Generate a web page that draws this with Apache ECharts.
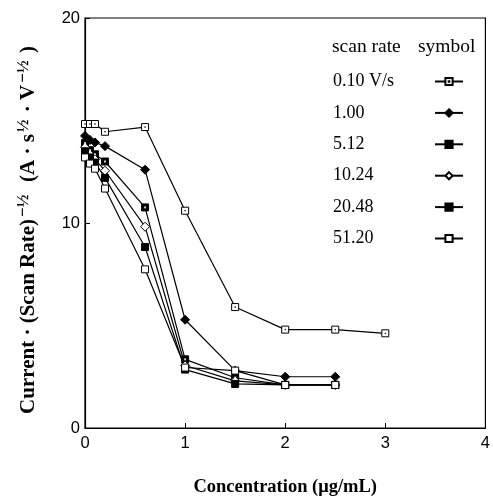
<!DOCTYPE html>
<html>
<head>
<meta charset="utf-8">
<script src="https://cdn.jsdelivr.net/npm/echarts@6/dist/echarts.min.js"></script>
<style>html,body{margin:0;padding:0;background:#fff}#c{width:493px;height:502px}</style>
</head>
<body>
<div id="c"></div>
<script>
// Concentration (µg/mL)
const concA = [0, 0.05, 0.1, 0.2, 0.6, 1.0, 1.5, 2.0, 2.5, 3.0];
const concB = [0, 0.05, 0.1, 0.2, 0.6, 1.0, 1.5, 2.0, 2.5];
// Current·(Scan Rate)^-1/2 for each scan rate
const rate010 = [14.83, 14.83, 14.83, 14.45, 14.68, 10.6, 5.9, 4.8, 4.8, 4.62];
const rate100 = [14.25, 14.05, 13.93, 13.75, 12.6, 5.28, 2.8, 2.5, 2.5];
const rate512 = [13.9, 13.55, 13.35, 13.0, 10.76, 3.35, 2.45, 2.1, 2.1];
const rate1024 = [13.7, 13.35, 13.1, 12.55, 9.82, 3.05, 2.3, 2.1, 2.1];
const rate2048 = [13.5, 13.2, 12.95, 12.2, 8.83, 2.85, 2.15, 2.1, 2.1];
const rate5120 = [13.2, 12.9, 12.65, 11.68, 7.74, 2.95, 2.8, 2.1, 2.1];
const seriesNames = ['0.10 V/s', '1.00', '5.12', '10.24', '20.48', '51.20'];
const xTicks = [0, 1, 2, 3, 4];
const yTicks = [0, 10, 20];

function pairs(xs, ys) { return ys.map((v, i) => [xs[i], v]); }

const dotSquare = 'path://M0,0H10V10H0Z M4.6,4.6H5.4V5.4H4.6Z';
const serif = '"Liberation Serif", "DejaVu Serif", serif';
const sans = '"Liberation Sans", Arial, sans-serif';

function lineSeries(name, data, symbol, size, fill) {
  return {
    name: name, type: 'line', data: data, symbol: symbol, symbolSize: size,
    showAllSymbol: true, animation: false,
    lineStyle: { color: '#000', width: 1.2 },
    itemStyle: { color: fill, borderColor: '#000', borderWidth: 1 },
    emphasis: { disabled: true }
  };
}

const chart = echarts.init(document.getElementById('c'), null, { renderer: 'canvas' });
chart.setOption({
  animation: false,
  backgroundColor: '#fff',
  grid: { left: 85, right: 4, top: 18, bottom: 71, show: true, borderColor: '#000', borderWidth: 1.2 },
  xAxis: {
    type: 'value', min: 0, max: 4, interval: 1,
    axisLine: { show: true, onZero: false, lineStyle: { color: '#000', width: 1.2 } },
    axisTick: { show: true, inside: true, length: 5, lineStyle: { color: '#000' } },
    axisLabel: { color: '#000', fontFamily: sans, fontSize: 16.5, margin: 7,
      formatter: v => xTicks.includes(v) ? String(v) : '' },
    splitLine: { show: false },
    name: 'Concentration (μg/mL)', nameLocation: 'middle', nameGap: 50,
    nameTextStyle: { color: '#000', fontFamily: serif, fontSize: 18.5, fontWeight: 'bold' }
  },
  yAxis: {
    type: 'value', min: 0, max: 20, interval: 10,
    axisLine: { show: true, lineStyle: { color: '#000', width: 1.2 } },
    axisTick: { show: true, inside: true, length: 5, lineStyle: { color: '#000' } },
    axisLabel: { color: '#000', fontFamily: sans, fontSize: 16.5, margin: 5,
      formatter: v => yTicks.includes(v) ? String(v) : '' },
    splitLine: { show: false },
    name: 'Current · (Scan Rate){s|−½}  (A · s{s|½} · V{s|−½} )',
    nameLocation: 'middle', nameGap: 42, nameRotate: 90,
    nameTextStyle: { color: '#000', fontFamily: serif, fontSize: 21, fontWeight: 'bold', lineHeight: 28, padding: [0, 14, 0, 0],
      rich: { s: { fontFamily: serif, fontSize: 17, fontWeight: 'bold', verticalAlign: 'top', lineHeight: 17, color: '#000', padding: [0, 2, 0, 2] } } }
  },
  legend: {
    data: seriesNames, orient: 'vertical', left: 333, top: 72, align: 'right', padding: 0,
    itemWidth: 28, itemHeight: 9, itemGap: 12.4, selectedMode: false,
    textStyle: { color: '#000', fontFamily: serif, fontSize: 18, lineHeight: 19,
      rich: { a: { width: 97, align: 'left', fontFamily: serif, fontSize: 18, color: '#000' } } },
    formatter: n => '{a|' + n + '}'
  },
  graphic: [
    { type: 'text', left: 332, top: 37, style: { text: 'scan rate', font: '19.5px ' + serif, fill: '#000' } },
    { type: 'text', left: 418, top: 37, style: { text: 'symbol', font: '19.5px ' + serif, fill: '#000' } }
  ],
  series: [
    lineSeries(seriesNames[0], pairs(concA, rate010), dotSquare, 7, '#fff'),
    lineSeries(seriesNames[1], pairs(concB, rate100), 'diamond', 9, '#000'),
    lineSeries(seriesNames[2], pairs(concB, rate512), 'rect', 7, '#000'),
    lineSeries(seriesNames[3], pairs(concB, rate1024), 'diamond', 9, '#fff'),
    lineSeries(seriesNames[4], pairs(concB, rate2048), 'rect', 7, '#000'),
    lineSeries(seriesNames[5], pairs(concB, rate5120), 'rect', 7, '#fff'),
    { name: 'dot512', type: 'scatter', data: pairs(concB, rate512), symbol: 'rect', symbolSize: 2,
      itemStyle: { color: '#fff' }, z: 5, silent: true, animation: false }
  ]
});
</script>
</body>
</html>
